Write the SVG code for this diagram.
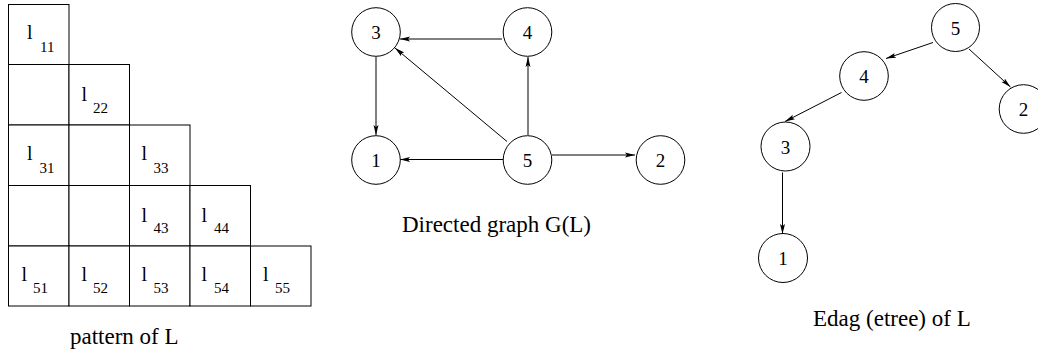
<svg xmlns="http://www.w3.org/2000/svg" width="1038" height="354" viewBox="0 0 1038 354">
<style>
text{font-family:"Liberation Serif","Times New Roman",serif;fill:#000}
.cell{fill:#fff;stroke:#000;stroke-width:1}
.l{font-size:20px}
.s{font-size:15px}
.cap{font-size:23px}
.nd circle{fill:#fff;stroke:#000;stroke-width:1}
.nd text{font-size:19px;text-anchor:middle}
.e{stroke:#000;stroke-width:1;fill:none;marker-end:url(#ah)}
</style>
<defs>
<marker id="ah" markerUnits="userSpaceOnUse" markerWidth="11" markerHeight="6" refX="10" refY="3" orient="auto">
<path d="M0,0.5 L10,3 L0,5.5 L2,3 z" fill="#000"/>
</marker>
</defs>
<rect width="1038" height="354" fill="#fff"/>
<g id="matrix">
<g id="c11"><rect class="cell" x="8.5" y="4.5" width="60.5" height="60"/><text class="l" x="27" y="39">l</text><text class="s" x="40" y="52">11</text></g>
<g id="c21"><rect class="cell" x="8.5" y="64.5" width="60.5" height="60.5"/></g>
<g id="c22"><rect class="cell" x="69" y="64.5" width="60.5" height="60.5"/><text class="l" x="81.5" y="101">l</text><text class="s" x="93" y="113">22</text></g>
<g id="c31"><rect class="cell" x="8.5" y="125" width="60.5" height="60.5"/><text class="l" x="27" y="160">l</text><text class="s" x="39.5" y="172.5">31</text></g>
<g id="c32"><rect class="cell" x="69" y="125" width="60.5" height="60.5"/></g>
<g id="c33"><rect class="cell" x="129.5" y="125" width="60.5" height="60.5"/><text class="l" x="141.5" y="160">l</text><text class="s" x="153.5" y="172.5">33</text></g>
<g id="c41"><rect class="cell" x="8.5" y="185.5" width="60.5" height="60.5"/></g>
<g id="c42"><rect class="cell" x="69" y="185.5" width="60.5" height="60.5"/></g>
<g id="c43"><rect class="cell" x="129.5" y="185.5" width="60.5" height="60.5"/><text class="l" x="141.5" y="221.5">l</text><text class="s" x="153.5" y="233">43</text></g>
<g id="c44"><rect class="cell" x="190" y="185.5" width="60.5" height="60.5"/><text class="l" x="201.5" y="221.5">l</text><text class="s" x="214" y="233">44</text></g>
<g id="c51"><rect class="cell" x="8.5" y="246" width="60.5" height="60"/><text class="l" x="21.5" y="281">l</text><text class="s" x="33" y="293">51</text></g>
<g id="c52"><rect class="cell" x="69" y="246" width="60.5" height="60"/><text class="l" x="81.5" y="281">l</text><text class="s" x="93" y="293">52</text></g>
<g id="c53"><rect class="cell" x="129.5" y="246" width="60.5" height="60"/><text class="l" x="141.5" y="281">l</text><text class="s" x="153.5" y="293">53</text></g>
<g id="c54"><rect class="cell" x="190" y="246" width="60.5" height="60"/><text class="l" x="201.5" y="281">l</text><text class="s" x="214" y="293">54</text></g>
<g id="c55"><rect class="cell" x="250.5" y="246" width="60.5" height="60"/><text class="l" x="263" y="281">l</text><text class="s" x="275" y="293">55</text></g>
</g>
<text id="cap1" class="cap" x="70" y="344">pattern of L</text>
<text id="cap2" class="cap" x="402" y="232">Directed graph G(L)</text>
<text id="cap3" class="cap" x="813" y="326">Edag (etree) of L</text>
<g id="connectors">
<line class="e" x1="502" y1="39" x2="400" y2="39"/>
<line class="e" x1="507" y1="141.5" x2="395" y2="48"/>
<line class="e" x1="376" y1="57" x2="376" y2="135"/>
<line class="e" x1="528" y1="135" x2="528" y2="57"/>
<line class="e" x1="503" y1="159.5" x2="400" y2="159.5"/>
<line class="e" x1="552" y1="155" x2="635" y2="155"/>
<line class="e" x1="933" y1="42.5" x2="886" y2="58.5"/>
<line class="e" x1="969" y1="49" x2="1010.5" y2="87"/>
<line class="e" x1="841.5" y1="92.5" x2="785" y2="121.5"/>
<line class="e" x1="782.5" y1="172.5" x2="782.5" y2="234"/>
</g>
<g id="g3" class="nd"><circle cx="376" cy="32" r="24.3"/><text x="376" y="39">3</text></g>
<g id="g4" class="nd"><circle cx="527.5" cy="32" r="24.3"/><text x="527.5" y="39">4</text></g>
<g id="g1" class="nd"><circle cx="376" cy="160" r="24.3"/><text x="376" y="167">1</text></g>
<g id="g5" class="nd"><circle cx="527.5" cy="160" r="24.3"/><text x="527.5" y="167">5</text></g>
<g id="g2" class="nd"><circle cx="660.5" cy="160" r="24.3"/><text x="660.5" y="167">2</text></g>
<g id="t5" class="nd"><circle cx="955.5" cy="27.5" r="24"/><text x="955.5" y="34.5">5</text></g>
<g id="t4" class="nd"><circle cx="864" cy="76" r="24.3"/><text x="864" y="83">4</text></g>
<g id="t2" class="nd"><circle cx="1023.5" cy="109" r="24.3"/><text x="1023.5" y="116">2</text></g>
<g id="t3" class="nd"><circle cx="785.5" cy="146.5" r="24.5"/><text x="785.5" y="153.5">3</text></g>
<g id="t1" class="nd"><circle cx="783" cy="258" r="24.5"/><text x="783" y="265">1</text></g>
</svg>
